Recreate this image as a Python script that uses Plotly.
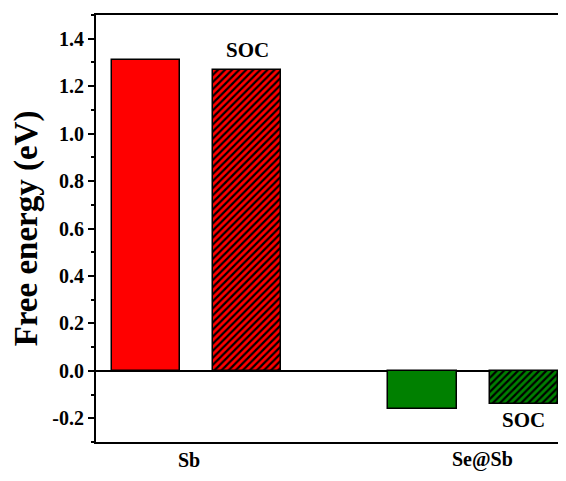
import plotly.graph_objects as go

categories = ["Sb", "Se@Sb"]
no_soc = [1.31, -0.16]
soc = [1.27, -0.14]
colors = ["#ff0000", "#008000"]
soc_label = "SOC"
tick_values = [-0.2, 0.0, 0.2, 0.4, 0.6, 0.8, 1.0, 1.2, 1.4]

group_pos = [0, 1]
offset = 0.1827
bar_w = 0.246

fig = go.Figure()
for g, v, c in zip(group_pos, no_soc, colors):
    fig.add_trace(go.Bar(
        x=[g - offset], y=[v], width=bar_w,
        marker=dict(color=c, line=dict(color="black", width=1.5)),
        showlegend=False,
    ))
for g, v, c in zip(group_pos, soc, colors):
    fig.add_trace(go.Bar(
        x=[g + offset], y=[v], width=bar_w,
        marker=dict(color=c, line=dict(color="black", width=1.5),
                    pattern=dict(shape="/", fillmode="overlay", fgcolor="#000000",
                                 fgopacity=1, size=5, solidity=0.45)),
        showlegend=False,
    ))

font_family = "Liberation Serif"
# SOC labels
fig.add_annotation(x=group_pos[0] + offset, y=soc[0], text="<b>%s</b>" % soc_label,
                   showarrow=False, yanchor="bottom", yshift=6,
                   font=dict(family=font_family, size=21, color="black"))
fig.add_annotation(x=group_pos[1] + offset, y=soc[1], text="<b>%s</b>" % soc_label,
                   showarrow=False, yanchor="top", yshift=-2,
                   font=dict(family=font_family, size=21, color="black"))
# category labels
label_shift = [-0.027, 0.034]
for g, c, s in zip(group_pos, categories, label_shift):
    fig.add_annotation(x=g + s, y=0, yref="paper", text="<b>%s</b>" % c,
                       showarrow=False, yanchor="bottom", yshift=-31,
                       font=dict(family=font_family, size=20, color="black"))

# the page body has an 8px margin, so the figure is sized to fit inside the window
fig.update_layout(
    width=550, height=465,
    margin=dict(l=88, r=0, t=7, b=31),
    plot_bgcolor="white", paper_bgcolor="white",
    font=dict(family=font_family, color="black"),
    bargap=0, barmode="overlay",
)
fig.update_xaxes(range=[-0.3635, 1.3074], showline=True, linecolor="black", linewidth=2,
                 mirror=True, showticklabels=False, ticks="", showgrid=False, zeroline=False,
                 automargin=False)
fig.update_yaxes(range=[-0.3, 1.5], showline=True, linecolor="black", linewidth=2,
                 mirror=False, ticks="outside", ticklen=6, tickwidth=2, tickcolor="black",
                 tickvals=tick_values,
                 ticktext=["<b>%.1f</b>" % v for v in tick_values],
                 minor=dict(ticks="outside", ticklen=3, tickwidth=1.5, tickcolor="black", dtick=0.1, tick0=0),
                 tickfont=dict(family=font_family, size=20, color="black"),
                 showgrid=False, zeroline=True, zerolinecolor="black", zerolinewidth=1.5,
                 automargin=False,
                 title=dict(text="<b>Free energy (eV)</b>", font=dict(family=font_family, size=33, color="black"),
                            standoff=16))

fig.write_html("out.html")
